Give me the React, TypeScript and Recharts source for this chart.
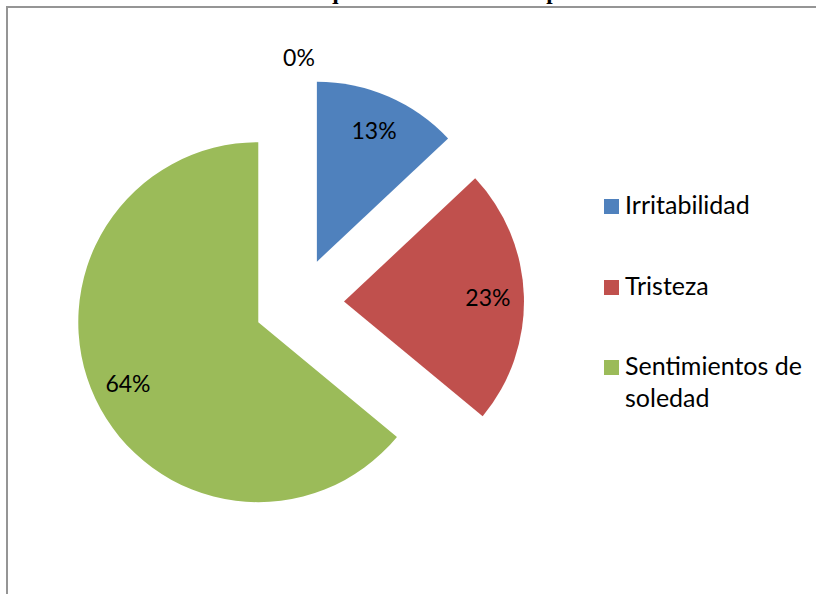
import React from 'react';
import { PieChart, Pie, Cell, Legend, Sector } from 'recharts';

const categories = ['Irritabilidad', 'Tristeza', 'Sentimientos de soledad', ''];
const values = [13, 23, 64, 0];
const colors = ['#4F81BD', '#C0504D', '#9BBB59', '#8064A2'];
const title = 'Las emociones que el entrevistado ha presentado';

const data = categories.map((name, i) => ({ name, value: values[i] }));

const RAD = Math.PI / 180;
const EXPLODE = 45;
const FONT = 'Lato, "Open Sans", sans-serif';

function renderSlice(props: any) {
  const { cx, cy, midAngle, startAngle, endAngle, outerRadius, percent, index, value } = props;
  const dx = Math.cos(-midAngle * RAD);
  const dy = Math.sin(-midAngle * RAD);
  const ox = cx + EXPLODE * dx;
  const oy = cy + EXPLODE * dy;
  const labelR = value > 0 ? outerRadius * 0.8 : outerRadius + 21;
  const lx = ox + labelR * dx;
  const ly = oy + labelR * dy;
  return (
    <g key={`slice-${index}`}>
      {value > 0 && (
        <Sector
          cx={ox}
          cy={oy}
          innerRadius={0}
          outerRadius={outerRadius}
          startAngle={startAngle}
          endAngle={endAngle}
          fill={colors[index]}
          stroke="none"
        />
      )}
      <text
        x={lx}
        y={ly}
        textAnchor="middle"
        dominantBaseline="central"
        fontFamily={FONT}
        fontSize={23}
        fill="#000"
      >
        {`${Math.round(percent * 100)}%`}
      </text>
    </g>
  );
}

function renderLegend(props: any) {
  const payload = (props.payload || [])
    .filter((p: any) => p.value)
    .slice()
    .sort((a: any, b: any) => categories.indexOf(a.value) - categories.indexOf(b.value));
  return (
    <div style={{ fontFamily: FONT, fontSize: 25, lineHeight: '32px', color: '#000', width: 212 }}>
      {payload.map((p: any, i: number) => (
        <div key={i} style={{ display: 'flex', alignItems: 'flex-start', marginBottom: 48.5 }}>
          <span
            style={{
              width: 15,
              height: 15,
              background: colors[categories.indexOf(p.value)],
              marginTop: 11,
              marginRight: 6,
              flex: 'none',
            }}
          />
          <span style={{ width: 191 }}>{p.value}</span>
        </div>
      ))}
    </div>
  );
}

export default function App() {
  return (
    <div style={{ position: 'absolute', left: 0, top: 0, width: 816, height: 594, background: '#fff', overflow: 'hidden' }}>
      <div style={{ position: 'absolute', left: 0, top: 0 }}>
        <PieChart width={816} height={594} margin={{ top: 0, right: 0, bottom: 0, left: 0 }}>
          <Pie
            data={data}
            dataKey="value"
            nameKey="name"
            cx={299}
            cy={303}
            outerRadius={180}
            startAngle={90}
            endAngle={-270}
            isAnimationActive={false}
            labelLine={false}
            label={renderSlice}
            fillOpacity={0}
            stroke="none"
          >
            {data.map((d, i) => (
              <Cell key={d.name + i} fill={colors[i]} fillOpacity={0} stroke="none" />
            ))}
          </Pie>
          <Legend
            layout="vertical"
            align="right"
            verticalAlign="middle"
            itemSorter={null as any}
            content={renderLegend}
            wrapperStyle={{ position: 'absolute', left: 604, top: 188, width: 212 }}
          />
        </PieChart>
      </div>
      <svg width={816} height={594} style={{ position: 'absolute', left: 0, top: 0, pointerEvents: 'none' }}>
        <path d="M7 594 L7 7 L816 7" fill="none" stroke="#959595" strokeWidth={2} />
        <text x={416} y={-1} textAnchor="middle" fontFamily='"Liberation Serif", serif' fontWeight="bold" fontSize={23} fill="#000">
          {title}
        </text>
      </svg>
    </div>
  );
}
